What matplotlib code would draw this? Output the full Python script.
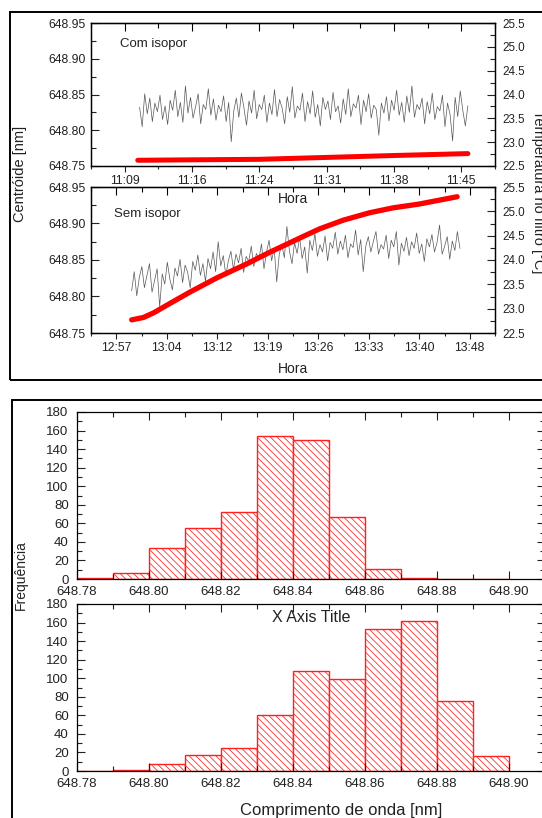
import numpy as np
import matplotlib
matplotlib.use("Agg")
import matplotlib.pyplot as plt
from matplotlib.ticker import MultipleLocator, FuncFormatter
from matplotlib.patches import Rectangle

plt.rcParams['font.family'] = ['Liberation Sans', 'DejaVu Sans']
plt.rcParams['hatch.linewidth'] = 0.55

# ---------------- data ----------------
# times in minutes since midnight
top_start, top_end = 671.2, 706.3          # 11:11.2 -> 11:46.3
bot_start, bot_end = 779.8, 826.6          # 12:59.8 -> 13:46.6

top_centroid = [
648.832, 648.805, 648.851, 648.823, 648.845, 648.812, 648.838, 648.826, 648.849, 648.815,
648.834, 648.808, 648.842, 648.828, 648.856, 648.819, 648.839, 648.811, 648.862, 648.824,
648.846, 648.817, 648.833, 648.851, 648.809, 648.836, 648.829, 648.858, 648.821, 648.844,
648.814, 648.835, 648.826, 648.848, 648.812, 648.839, 648.784, 648.827, 648.845, 648.818,
648.852, 648.831, 648.807, 648.841, 648.824, 648.856, 648.816, 648.836, 648.829, 648.849,
648.811, 648.838, 648.822, 648.857, 648.819, 648.843, 648.831, 648.809, 648.847, 648.825,
648.861, 648.817, 648.834, 648.828, 648.852, 648.812, 648.840, 648.823, 648.855, 648.818,
648.836, 648.806, 648.846, 648.829, 648.841, 648.815, 648.853, 648.826, 648.834, 648.810,
648.844, 648.822, 648.858, 648.819, 648.837, 648.831, 648.849, 648.808, 648.842, 648.826,
648.851, 648.817, 648.835, 648.829, 648.793, 648.838, 648.824, 648.847, 648.813, 648.842,
648.828, 648.856, 648.821, 648.839, 648.811, 648.848, 648.825, 648.862, 648.818, 648.836,
648.829, 648.845, 648.809, 648.840, 648.823, 648.852, 648.815, 648.833, 648.827, 648.849,
648.805, 648.838, 648.822, 648.785, 648.846, 648.819, 648.855, 648.828, 648.806, 648.834]

bottom_centroid = [
648.808, 648.834, 648.801, 648.826, 648.841, 648.812, 648.829, 648.845, 648.806, 648.822,
648.838, 648.786, 648.831, 648.817, 648.847, 648.824, 648.809, 648.839, 648.828, 648.851,
648.819, 648.843, 648.833, 648.812, 648.848, 648.836, 648.857, 648.829, 648.845, 648.821,
648.852, 648.838, 648.861, 648.834, 648.875, 648.842, 648.856, 648.829, 648.849, 648.862,
648.837, 648.858, 648.846, 648.866, 648.833, 648.855, 648.848, 648.869, 648.841, 648.859,
648.851, 648.872, 648.838, 648.861, 648.877, 648.849, 648.866, 648.820, 648.858, 648.871,
648.853, 648.896, 648.862, 648.845, 648.874, 648.859, 648.881, 648.852, 648.868, 648.832,
648.877, 648.863, 648.886, 648.855, 648.871, 648.861, 648.883, 648.849, 648.874, 648.866,
648.888, 648.858, 648.876, 648.864, 648.884, 648.853, 648.872, 648.867, 648.891, 648.857,
648.878, 648.834, 648.869, 648.882, 648.861, 648.876, 648.889, 648.858, 648.871, 648.865,
648.884, 648.852, 648.877, 648.868, 648.889, 648.843, 648.873, 648.862, 648.881, 648.856,
648.875, 648.866, 648.887, 648.859, 648.872, 648.848, 648.879, 648.868, 648.885, 648.861,
648.874, 648.898, 648.858, 648.869, 648.882, 648.851, 648.876, 648.863, 648.889, 648.866]

top_temp_time = [671.0, 677.0, 684.0, 691.2, 698.4, 706.3]
top_temp = [22.62, 22.63, 22.64, 22.68, 22.72, 22.76]

bot_temp_time = [779.8, 781.5, 783.0, 784.8, 788.1, 791.9, 796.2, 799.5, 802.0, 804.2,
                 806.6, 810.0, 813.7, 817.0, 820.8, 826.2]
bot_temp = [22.77, 22.82, 22.92, 23.07, 23.34, 23.63, 23.92, 24.16, 24.33, 24.48,
            24.64, 24.82, 24.97, 25.07, 25.15, 25.30]

bin_edges = [648.78, 648.79, 648.80, 648.81, 648.82, 648.83, 648.84, 648.85,
             648.86, 648.87, 648.88, 648.89, 648.90]
hist_top = [1, 6, 33, 55, 72, 154, 150, 67, 11, 1, 0, 0]
hist_bottom = [0, 1, 8, 17, 25, 60, 108, 99, 153, 162, 75, 16]

# ---------------- figure ----------------
W, H = 542, 818
fig = plt.figure(figsize=(W / 100, H / 100), dpi=100)

def px(l, t, r, b):
    return [l / W, 1 - b / H, (r - l) / W, (b - t) / H]

# frames
fig.patches.append(Rectangle((10 / W, 1 - 380 / H), 600 / W, 368 / H, transform=fig.transFigure,
                             fill=False, lw=1.4, ec='black'))
fig.patches.append(Rectangle((12 / W, 1 - 900 / H), 600 / W, 500 / H, transform=fig.transFigure,
                             fill=False, lw=1.4, ec='black'))

def fmt_time(m, pos):
    m = m + 1e-6
    return "%d:%02d" % (int(m // 60), int(m % 60))

TICK_FS = 8.8

def style_time_axes(ax, ax2):
    ax.xaxis.set_major_locator(MultipleLocator(7.2))
    ax.xaxis.set_minor_locator(MultipleLocator(3.6))
    ax.xaxis.set_major_formatter(FuncFormatter(fmt_time))
    ax.yaxis.set_major_locator(MultipleLocator(0.05))
    ax.yaxis.set_minor_locator(MultipleLocator(0.025))
    ax.yaxis.set_major_formatter(FuncFormatter(lambda v, p: "%.2f" % v))
    ax.set_ylim(648.75, 648.95)
    ax.tick_params(axis='y', which='both', direction='in', labelsize=TICK_FS, pad=4, colors='#222222')
    ax.tick_params(axis='y', which='major', length=6, width=0.8)
    ax.tick_params(axis='y', which='minor', length=3.5, width=0.8)
    ax.tick_params(axis='x', which='both', direction='out', labelsize=TICK_FS, pad=2.5,
                   top=False, colors='#222222')
    ax.tick_params(axis='x', which='major', length=4, width=0.8)
    ax.tick_params(axis='x', which='minor', length=2.5, width=0.8)
    sec = ax.secondary_xaxis('top')
    sec.xaxis.set_major_locator(MultipleLocator(7.2))
    sec.xaxis.set_minor_locator(MultipleLocator(3.6))
    sec.tick_params(axis='x', which='both', direction='in', labeltop=False, width=0.8)
    sec.tick_params(axis='x', which='major', length=6)
    sec.tick_params(axis='x', which='minor', length=3.5)
    ax2.set_ylim(22.5, 25.5)
    ax2.yaxis.set_major_locator(MultipleLocator(0.5))
    ax2.yaxis.set_minor_locator(MultipleLocator(0.25))
    ax2.yaxis.set_major_formatter(FuncFormatter(lambda v, p: "%.1f" % v))
    ax2.tick_params(axis='y', which='both', direction='in', labelsize=TICK_FS - 0.4, pad=5, colors='#222222')
    ax2.tick_params(axis='y', which='major', length=6, width=0.8)
    ax2.tick_params(axis='y', which='minor', length=3.5, width=0.8)
    for a in (ax, ax2):
        for s in a.spines.values():
            s.set_linewidth(0.9)

# top panel
ax1 = fig.add_axes(px(91, 23, 495, 166))
ax1.set_xlim(666.0, 709.2)
t1 = np.linspace(top_start, top_end, len(top_centroid))
ax1.plot(t1, top_centroid, color='#3a3a3a', lw=0.5, alpha=0.85)
ax1b = ax1.twinx()
ax1b.plot(top_temp_time, top_temp, color='#ff0000', lw=3.6, solid_capstyle='round')
style_time_axes(ax1, ax1b)

# bottom panel
ax2 = fig.add_axes(px(91, 187, 495, 333))
ax2.set_xlim(774.0, 831.6)
t2 = np.linspace(bot_start, bot_end, len(bottom_centroid))
ax2.plot(t2, bottom_centroid, color='#3a3a3a', lw=0.5, alpha=0.85)
ax2b = ax2.twinx()
ax2b.plot(bot_temp_time, bot_temp, color='#ff0000', lw=3.8, solid_capstyle='round',
          solid_joinstyle='round')
style_time_axes(ax2, ax2b)

fig.text(120 / W, 1 - 44 / H, "Com isopor", fontsize=9.5, ha='left', va='center', color='#222222')
fig.text(114 / W, 1 - 214 / H, "Sem isopor", fontsize=9.5, ha='left', va='center', color='#222222')
fig.text(293 / W, 1 - 199 / H, "Hora", fontsize=10, ha='center', va='center', color='#222222')
fig.text(293 / W, 1 - 369 / H, "Hora", fontsize=10, ha='center', va='center', color='#222222')
fig.text(20 / W, 1 - 174 / H, "Centróide [nm]", fontsize=10.5, rotation=90, ha='center', va='center', color='#222222')
fig.text(538 / W, 1 - 192 / H, "Temperatura no filtro [°C]", fontsize=10.5, rotation=270,
         ha='center', va='center', color='#222222')

# histograms
def style_hist(ax):
    ax.set_xlim(648.78, 648.91)
    ax.set_ylim(0, 180)
    ax.xaxis.set_major_locator(MultipleLocator(0.02))
    ax.xaxis.set_minor_locator(MultipleLocator(0.01))
    ax.xaxis.set_major_formatter(FuncFormatter(lambda v, p: "%.2f" % v))
    ax.yaxis.set_major_locator(MultipleLocator(20))
    ax.yaxis.set_minor_locator(MultipleLocator(10))
    ax.tick_params(which='both', direction='in', top=True, right=True, labelsize=9.5,
                   width=0.8, colors='#222222')
    ax.tick_params(which='major', length=6)
    ax.tick_params(which='minor', length=3.5)
    ax.tick_params(axis='x', pad=5)
    ax.tick_params(axis='y', pad=6)
    for s in ax.spines.values():
        s.set_linewidth(0.9)

edges = np.array(bin_edges)
for pos, counts in ((px(77, 412, 545, 579), hist_top), (px(77, 604, 545, 771), hist_bottom)):
    ax = fig.add_axes(pos)
    ax.bar(edges[:-1], counts, width=np.diff(edges), align='edge', facecolor='white',
           edgecolor='#ff2020', linewidth=1.0, hatch='\\\\\\\\\\')
    style_hist(ax)

fig.text(311 / W, 1 - 618 / H, "X Axis Title", fontsize=11.5, ha='center', va='center', color='#222222')
fig.text(341 / W, 1 - 811 / H, "Comprimento de onda [nm]", fontsize=12, ha='center', va='center', color='#222222')
fig.text(21 / W, 1 - 575 / H, "Frequência", fontsize=10, rotation=90, ha='center', va='center', color='#222222')

fig.savefig("out.png", dpi=100)
